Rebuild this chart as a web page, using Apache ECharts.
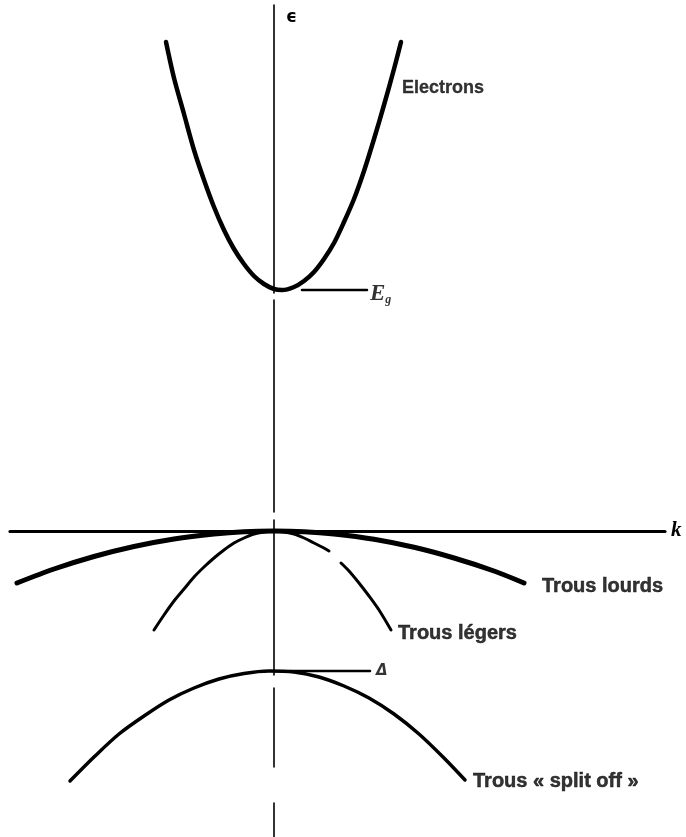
<!DOCTYPE html>
<html>
<head>
<meta charset="utf-8">
<script src="https://cdn.jsdelivr.net/npm/echarts@6/dist/echarts.min.js"></script>
<style>
  html, body { margin: 0; padding: 0; background: #fff; }
  #chart { width: 686px; height: 837px; }
</style>
</head>
<body>
<div id="chart"></div>
<script>
// Band structure near k = 0 (schematic): energies in arbitrary units.
const electronsK = [-1.08, -1.0, -0.9, -0.8, -0.7, -0.6, -0.5, -0.4, -0.3, -0.2, -0.1, 0.0, 0.08, 0.2, 0.3, 0.4, 0.5, 0.6, 0.7, 0.8, 0.9, 1.0, 1.1, 1.2, 1.27];
const electronsE = [4.89, 4.53, 4.17, 3.81, 3.51, 3.24, 3.01, 2.82, 2.67, 2.55, 2.47, 2.42, 2.41, 2.44, 2.50, 2.59, 2.72, 2.88, 3.09, 3.32, 3.60, 3.92, 4.26, 4.62, 4.89];

const heavyK = [-2.57, -2.2, -1.8, -1.4, -1.0, -0.6, -0.3, 0, 0.3, 0.6, 1.0, 1.4, 1.8, 2.2, 2.50];
const heavyE = [-0.52, -0.38, -0.255, -0.155, -0.08, -0.03, -0.007, 0, -0.007, -0.03, -0.083, -0.163, -0.27, -0.40, -0.52];

// light holes: the right branch is interrupted (null splits the line)
const lightK = [-1.20, -1.10, -1.00, -0.90, -0.80, -0.70, -0.60, -0.50, -0.40, -0.30, -0.20, -0.10, 0, 0.10, 0.20, 0.30, 0.40, 0.48, 0.55, 0.61, 0.67, 0.75, 0.85, 0.95, 1.05, 1.17];
const lightE = [-0.99, -0.84, -0.70, -0.58, -0.46, -0.36, -0.27, -0.19, -0.12, -0.07, -0.03, -0.01, 0, -0.01, -0.03, -0.07, -0.12, -0.16, -0.20, null, -0.32, -0.40, -0.52, -0.65, -0.79, -0.99];

const splitK = [-2.04, -1.80, -1.55, -1.30, -1.05, -0.80, -0.55, -0.30, -0.05, 0.20, 0.45, 0.70, 0.95, 1.20, 1.45, 1.70, 1.91];
const splitE = [-2.50, -2.26, -2.03, -1.85, -1.69, -1.57, -1.48, -1.425, -1.40, -1.41, -1.46, -1.55, -1.67, -1.83, -2.03, -2.27, -2.49];

// gap energy and top of the split-off band, marked by short leaders
const gapEnergy = 2.41;
const splitTop = -1.40;
const egLeaderK = [0.28, 0.93];
const deltaLeaderK = [0.16, 0.96];

// annotation texts and where they sit (k, energy)
const noteNames = ['Electrons', 'Trous lourds', 'Trous légers', 'Trous « split off »', 'Eg', 'Delta'];
const noteK = [1.28, 2.68, 1.24, 1.99, 0.96, 1.02];
const noteE = [4.43, -0.55, -1.02, -2.50, 2.37, -1.40];

function pairs(xs, ys) {
  return xs.map((x, i) => [x, ys[i] === null ? null : ys[i]]);
}

const ink = '#000';
const labelFont = {
  fontFamily: 'Liberation Sans', fontWeight: 'bold', fontSize: 20, color: ink,
  textBorderColor: ink, textBorderWidth: 0.5
};

const chart = echarts.init(document.getElementById('chart'), null, { renderer: 'canvas' });

const noteData = noteNames.map((n, i) => {
  const item = { value: [noteK[i], noteE[i]], name: n };
  if (n === 'Eg') {
    item.label = { formatter: '{e|E}{g|g}', textBorderWidth: 0 };
  } else if (n === 'Delta') {
    item.label = { formatter: '{d|Δ}', textBorderWidth: 0 };
  } else if (n === 'Electrons') {
    item.label = { formatter: n, fontSize: 18, textBorderWidth: 0.3 };
  } else {
    item.label = { formatter: n };
  }
  return item;
});

const curveLine = (w) => ({ color: ink, width: w, cap: 'round', join: 'round' });

chart.setOption({
  animation: false,
  backgroundColor: '#fff',
  grid: { left: 10, right: 21, top: 5, bottom: 0 },
  xAxis: {
    type: 'value', min: -2.64, max: 3.91,
    axisLine: { onZero: true, lineStyle: { color: ink, width: 3.2 } },
    axisTick: { show: false }, axisLabel: { show: false }, splitLine: { show: false },
    name: 'k', nameLocation: 'end', nameGap: 6,
    nameTextStyle: { fontFamily: 'Liberation Serif', fontStyle: 'italic', fontWeight: 'bold', fontSize: 21, color: ink, verticalAlign: 'middle' }
  },
  yAxis: {
    type: 'value', min: -3.06, max: 5.26,
    axisLine: { onZero: true, lineStyle: { color: ink, width: 1.6, type: [34, 36, 79, 13, 155, 8, 212, 7, 300] } },
    axisTick: { show: false }, axisLabel: { show: false }, splitLine: { show: false },
    name: 'ϵ', nameLocation: 'end', nameGap: -21,
    nameTextStyle: { fontFamily: 'DejaVu Sans', fontWeight: 'bold', fontSize: 17, color: ink, align: 'left', padding: [0, 0, 0, 12] }
  },
  series: [
    { name: 'Electrons', type: 'line', data: pairs(electronsK, electronsE), smooth: 0.3, symbol: 'none',
      lineStyle: curveLine(4.5) },
    { name: 'Trous lourds', type: 'line', data: pairs(heavyK, heavyE), smooth: 0.3, symbol: 'none',
      lineStyle: curveLine(5) },
    { name: 'Trous légers', type: 'line', data: pairs(lightK, lightE), smooth: 0.3, symbol: 'none', connectNulls: false,
      lineStyle: curveLine(3) },
    { name: 'Trous split off', type: 'line', data: pairs(splitK, splitE), smooth: 0.3, symbol: 'none',
      lineStyle: curveLine(3.5) },
    { name: 'Eg leader', type: 'line', data: egLeaderK.map(k => [k, gapEnergy]), symbol: 'none',
      lineStyle: curveLine(2.5) },
    { name: 'Delta leader', type: 'line', data: deltaLeaderK.map(k => [k, splitTop]), symbol: 'none',
      lineStyle: curveLine(2.5) },
    { name: 'notes', type: 'scatter', symbolSize: 0, data: noteData, silent: true,
      label: {
        show: true, position: 'right', distance: 0, ...labelFont,
        rich: {
          e: { fontFamily: 'Liberation Serif', fontStyle: 'italic', fontWeight: 'bold', fontSize: 23, color: ink },
          g: { fontFamily: 'Liberation Serif', fontStyle: 'italic', fontWeight: 'bold', fontSize: 12, color: ink, verticalAlign: 'bottom', padding: [11, 0, 0, 0] },
          d: { fontFamily: 'DejaVu Sans', fontStyle: 'italic', fontWeight: 'bold', fontSize: 15, color: ink }
        }
      }
    }
  ]
});
</script>
</body>
</html>
